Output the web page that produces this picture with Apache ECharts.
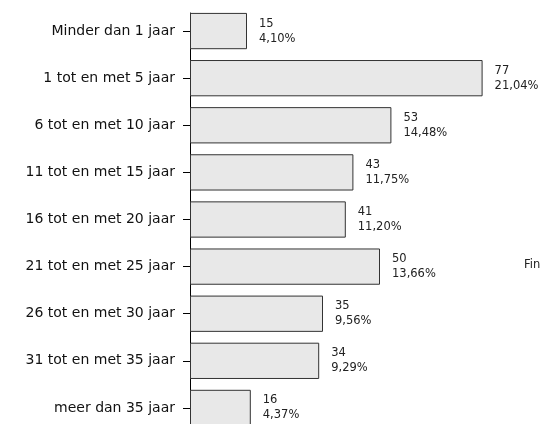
<!DOCTYPE html>
<html>
<head>
<meta charset="utf-8">
<script src="https://cdn.jsdelivr.net/npm/echarts@6/dist/echarts.min.js"></script>
<style>
  html, body { margin: 0; padding: 0; background: #fff; overflow: hidden; }
  #chart { width: 540px; height: 450px; }
</style>
</head>
<body>
<div id="chart"></div>
<script>
const categories = [
    'Minder dan 1 jaar',
    '1 tot en met 5 jaar',
    '6 tot en met 10 jaar',
    '11 tot en met 15 jaar',
    '16 tot en met 20 jaar',
    '21 tot en met 25 jaar',
    '26 tot en met 30 jaar',
    '31 tot en met 35 jaar',
    'meer dan 35 jaar'
];
const counts = [15, 77, 53, 43, 41, 50, 35, 34, 16];
const percentages = ['4,10%', '21,04%', '14,48%', '11,75%', '11,20%', '13,66%', '9,56%', '9,29%', '4,37%'];

const chart = echarts.init(document.getElementById('chart'));
const font = '"DejaVu Sans", sans-serif';

let option = {
    animation: false,
    grid: [
        // bars
        { left: 190, top: 7.5, width: 342, height: 424, containLabel: false },
        // axis line only, starts at the first bar top
        { left: 190, top: 13, width: 342, height: 430, containLabel: false }
    ],
    xAxis: [
        { gridIndex: 0, type: 'value', min: 0, max: 90, show: false },
        { gridIndex: 1, type: 'value', min: 0, max: 90, show: false }
    ],
    yAxis: [
        {
            gridIndex: 0,
            type: 'category',
            data: categories,
            inverse: true,
            axisLine: { show: false },
            axisTick: { show: true, alignWithLabel: true, length: 7, lineStyle: { color: '#000' } },
            axisLabel: {
                margin: 15,
                color: '#111',
                fontSize: 14,
                fontFamily: font
            }
        },
        {
            gridIndex: 1,
            type: 'value',
            min: 0,
            max: 1,
            axisLine: { show: true, lineStyle: { color: '#000', width: 1 } },
            axisTick: { show: false },
            axisLabel: { show: false },
            splitLine: { show: false }
        }
    ],
    series: [
        {
            type: 'bar',
            xAxisIndex: 0,
            yAxisIndex: 0,
            data: counts,
            barCategoryGap: '23%',
            itemStyle: {
                color: '#e8e8e8',
                borderColor: '#333',
                borderWidth: 1
            },
            label: {
                show: true,
                position: 'right',
                distance: 12,
                align: 'left',
                color: '#222',
                fontSize: 11.5,
                lineHeight: 15,
                fontFamily: font,
                formatter: function (p) {
                    return p.value + '\n' + percentages[p.dataIndex];
                }
            }
        }
    ],
    graphic: [
        {
            type: 'text',
            left: 524,
            top: 259,
            style: {
                text: 'Financiën',
                fill: '#222',
                fontSize: 11.5,
                fontFamily: font
            }
        }
    ]
};
chart.setOption(option);
</script>
</body>
</html>
